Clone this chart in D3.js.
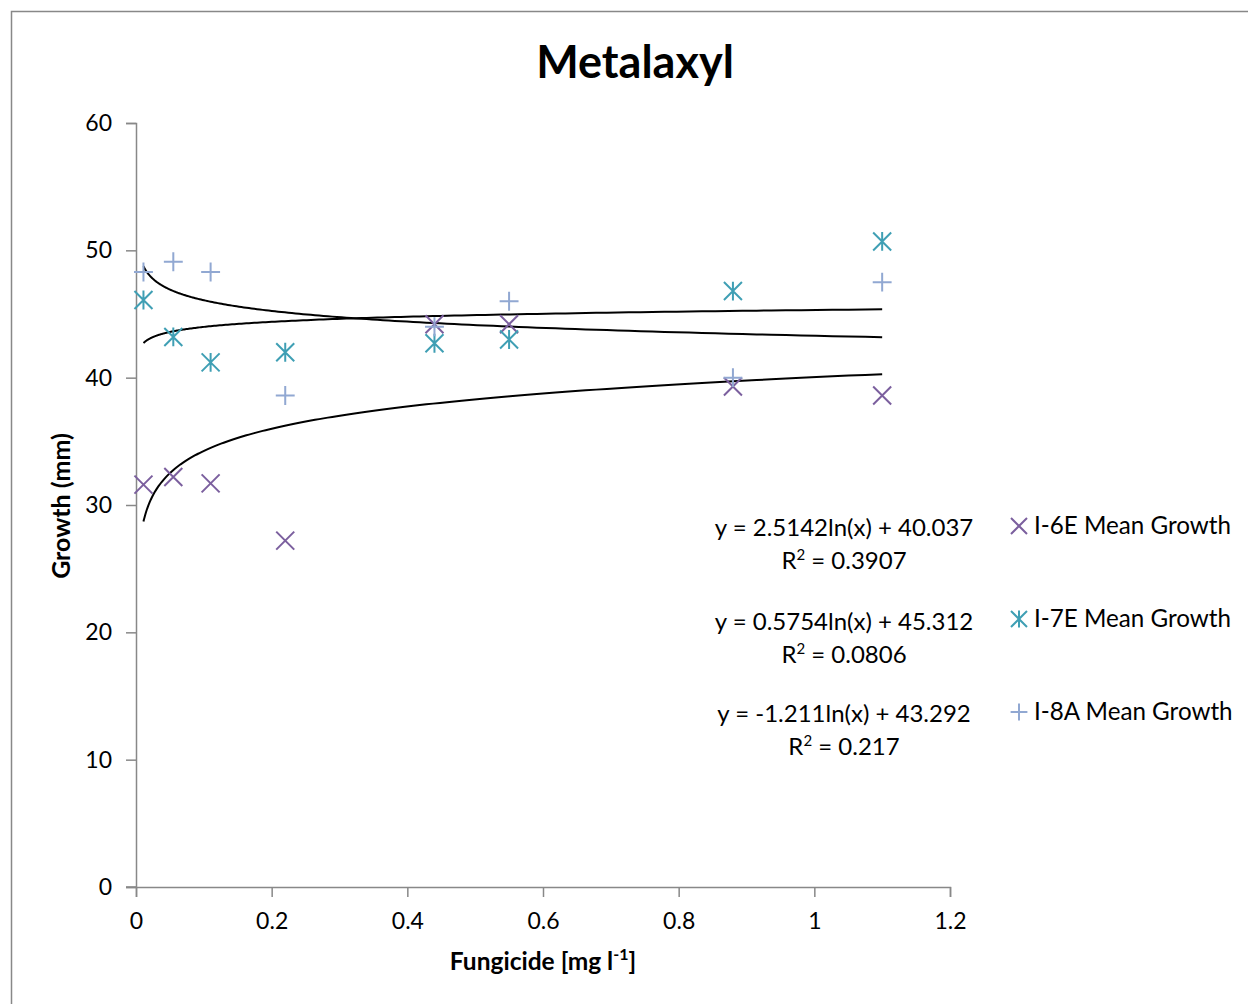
<!DOCTYPE html>
<html><head><meta charset="utf-8">
<script src="https://cdn.jsdelivr.net/npm/d3@7"></script>
<style>body{margin:0;background:#fff}svg text{font-family:Lato,"Open Sans",sans-serif}</style>
</head><body><svg id="c" width="1248" height="1004"></svg>
<script>
const xValues = [0.011, 0.055, 0.11, 0.22, 0.44, 0.55, 0.88, 1.1];
const seriesNames = ["I-6E Mean Growth", "I-7E Mean Growth", "I-8A Mean Growth"];
const i6e = [31.6, 32.2, 31.7, 27.2, 44.2, 44.2, 39.3, 38.6];
const i7e = [46.1, 43.2, 41.2, 42.0, 42.7, 43.0, 46.8, 50.7];
const i8a = [48.3, 49.1, 48.3, 38.6, 44.0, 46.0, 40.0, 47.5];
const trendA = [2.5142, 0.5754, -1.211];
const trendB = [40.037, 45.312, 43.292];
const eqLabels = ["y = 2.5142ln(x) + 40.037", "y = 0.5754ln(x) + 45.312", "y = -1.211ln(x) + 43.292"];
const r2Values = ["0.3907", "0.0806", "0.217"];
const xTicks = [0, 0.2, 0.4, 0.6, 0.8, 1, 1.2];
const yTicks = [0, 10, 20, 30, 40, 50, 60];

const colors = ["#7b5f9e", "#3f9fb4", "#91a8d2"];
const shapes = ["x", "star", "plus"];
const series = [i6e, i7e, i8a];

const svg = d3.select("#c");
svg.append("rect").attr("x", 11.5).attr("y", 11.5).attr("width", 1260).attr("height", 1020)
  .attr("fill", "none").attr("stroke", "#888").attr("stroke-width", 1.5);

const x = d3.scaleLinear().domain([0, 1.2]).range([136, 950]);
const y = d3.scaleLinear().domain([0, 60]).range([887, 123]);

svg.append("text").attr("x", 635).attr("y", 78).attr("text-anchor", "middle")
  .attr("font-size", 45).attr("font-weight", "bold").text("Metalaxyl");

const xa = svg.append("g").attr("transform", "translate(0,887)")
  .call(d3.axisBottom(x).tickValues(xTicks).tickFormat(d3.format("")).tickSize(10).tickPadding(16));
const ya = svg.append("g").attr("transform", "translate(136,0)")
  .call(d3.axisLeft(y).tickValues(yTicks).tickSize(10).tickPadding(14));
[xa, ya].forEach(a => {
  a.select(".domain").attr("stroke", "#888").attr("stroke-width", 1.5);
  a.selectAll(".tick line").attr("stroke", "#888").attr("stroke-width", 1.5);
  a.selectAll(".tick text").attr("font-size", 23).attr("fill", "#000").style("font-family", "Lato, sans-serif");
});
svg.append("line").attr("x1", 126).attr("x2", 136).attr("y1", 887).attr("y2", 887).attr("stroke", "#888").attr("stroke-width", 1.5);

svg.append("text").attr("x", 543).attr("y", 970).attr("text-anchor", "middle")
  .attr("font-size", 24.5).attr("font-weight", "bold")
  .html('Fungicide [mg l<tspan dy="-10" font-size="16">-1</tspan><tspan dy="10">]</tspan>');
svg.append("text").attr("transform", "translate(70,506) rotate(-90)").attr("text-anchor", "middle")
  .attr("font-size", 25).attr("font-weight", "bold").text("Growth (mm)");

function marker(g, shape, cx, cy, color, s) {
  const p = d3.path();
  if (shape === "x" || shape === "star") {
    p.moveTo(cx - s, cy - s); p.lineTo(cx + s, cy + s);
    p.moveTo(cx - s, cy + s); p.lineTo(cx + s, cy - s);
  }
  if (shape === "plus" || shape === "star") {
    p.moveTo(cx, cy - s * 1.05); p.lineTo(cx, cy + s * 1.05);
    if (shape === "plus") { p.moveTo(cx - s * 1.05, cy); p.lineTo(cx + s * 1.05, cy); }
  }
  g.append("path").attr("d", p.toString()).attr("stroke", color).attr("stroke-width", 2).attr("fill", "none");
}

const xs = d3.range(0, 201).map(i => 0.011 * Math.pow(1.1 / 0.011, i / 200));
trendA.forEach((a, k) => {
  const line = d3.line().x(d => x(d)).y(d => y(a * Math.log(d) + trendB[k]));
  svg.append("path").attr("d", line(xs)).attr("fill", "none").attr("stroke", "#000").attr("stroke-width", 2);
});

series.forEach((vals, k) => {
  const g = svg.append("g");
  vals.forEach((v, i) => marker(g, shapes[k], x(xValues[i]), y(v), colors[k], 9));
});

const eqY = [528, 622, 714];
eqLabels.forEach((t, k) => {
  svg.append("text").attr("x", 844).attr("y", eqY[k] + 8).attr("text-anchor", "middle").attr("font-size", 24).text(t);
  svg.append("text").attr("x", 844).attr("y", eqY[k] + 41).attr("text-anchor", "middle").attr("font-size", 24)
    .html('R<tspan dy="-9" font-size="15">2</tspan><tspan dy="9"> = ' + r2Values[k] + '</tspan>');
});

const legY = [526, 619, 712];
seriesNames.forEach((n, k) => {
  const g = svg.append("g");
  marker(g, shapes[k], 1019, legY[k], colors[k], 8);
  svg.append("text").attr("x", 1034).attr("y", legY[k] + 8).attr("font-size", 24.2).text(n);
});
</script></body></html>
